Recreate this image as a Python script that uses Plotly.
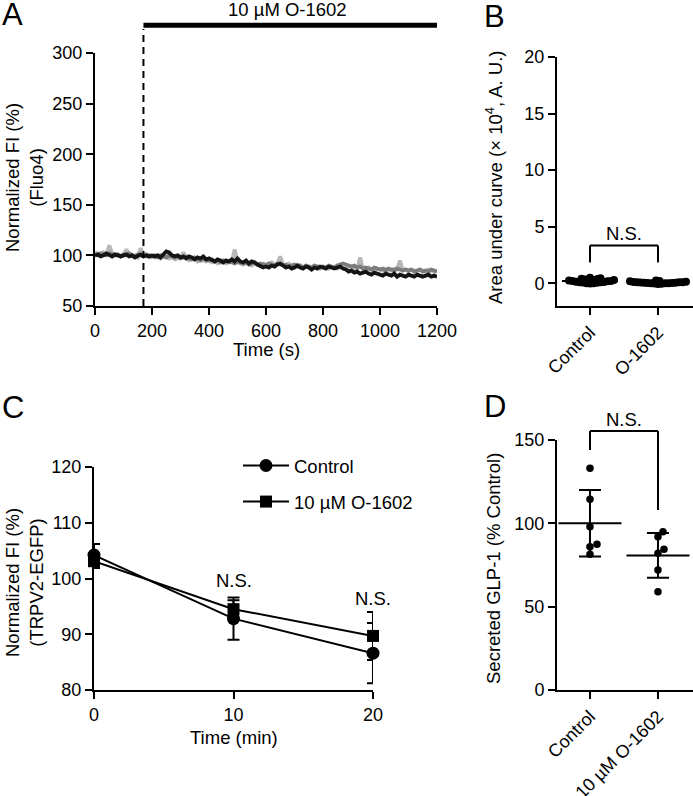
import numpy as np
import plotly.graph_objects as go

W, H = 693, 796
FONT = "Liberation Sans, Arial, sans-serif"
TICK = 18
TXT = 18.5

# ---------------- Panel A data ----------------
time_s = list(range(0, 1201, 10))
fluo_light = [103, 102, 101, 103, 100, 110, 102, 100, 101, 99,
              100, 106, 101, 99, 100, 98, 107, 100, 99, 98,
              99, 98, 100, 97, 99, 98, 97, 98, 96, 97,
              98, 103, 97, 95, 96, 97, 94, 96, 95, 94,
              95, 93, 94, 92, 94, 93, 92, 94, 93, 106,
              93, 92, 91, 93, 92, 90, 92, 91, 90, 92,
              91, 92, 93, 91, 92, 99, 91, 90, 92, 90,
              89, 91, 90, 88, 90, 89, 88, 90, 89, 87,
              89, 88, 87, 89, 88, 87, 89, 88, 87, 89,
              88, 87, 86, 98, 87, 86, 88, 86, 85, 87,
              86, 85, 87, 86, 85, 87, 86, 95, 85, 86,
              84, 86, 85, 84, 86, 85, 84, 86, 85, 84,
              85]
fluo_mid = [101, 100, 102, 101, 100, 102, 101, 100, 101, 99,
            101, 100, 102, 100, 99, 101, 100, 99, 101, 100,
            99, 100, 98, 100, 99, 98, 100, 99, 98, 99,
            97, 98, 99, 97, 96, 98, 97, 95, 97, 96,
            95, 96, 94, 95, 93, 95, 94, 93, 94, 92,
            94, 93, 92, 93, 91, 92, 93, 91, 92, 91,
            90, 92, 91, 90, 92, 91, 90, 91, 89, 90,
            91, 89, 90, 88, 90, 89, 88, 90, 89, 88,
            89, 88, 90, 89, 88, 90, 91, 92, 91, 90,
            89, 90, 88, 89, 87, 88, 87, 86, 88, 87,
            86, 87, 85, 87, 86, 85, 87, 86, 85, 86,
            85, 86, 84, 85, 86, 84, 85, 84, 86, 85,
            84]
fluo_black = [100, 101, 99, 100, 102, 100, 99, 101, 100, 99,
              100, 101, 99, 100, 98, 100, 101, 99, 100, 99,
              100, 99, 100, 98, 101, 104, 103, 100, 99, 100,
              98, 99, 97, 99, 98, 96, 98, 97, 99, 96,
              97, 95, 94, 96, 95, 93, 95, 94, 96, 94,
              97, 94, 93, 95, 92, 94, 93, 91, 89, 88,
              89, 88, 90, 89, 91, 92, 90, 88, 89, 87,
              88, 90, 88, 87, 89, 88, 86, 88, 87, 89,
              88, 87, 89, 88, 87, 88, 89, 87, 86, 84,
              85, 83, 84, 82, 83, 84, 82, 81, 83, 82,
              81, 80, 82, 81, 80, 82, 79, 81, 80, 79,
              81, 80, 79, 81, 80, 79, 80, 81, 79, 80,
              79]
drug_start_s = 170
drug_end_s = 1200
drug_label = "10 µM O-1602"
a_xticks = [0, 200, 400, 600, 800, 1000, 1200]
a_yticks = [50, 100, 150, 200, 250, 300]

# ---------------- Panel B data ----------------
auc_categories = ["Control", "O-1602"]
auc_control = [0.45, 0.40, 0.35, 0.30, 0.28, 0.25, 0.22, 0.20, 0.18, 0.15, 0.12, 0.10,
               0.08, 0.05, 0.02, 0.00, -0.02, 0.30, 0.38, 0.50, 0.20, 0.10]
auc_o1602 = [0.25, 0.20, 0.15, 0.10, 0.08, 0.05, 0.03, 0.00, -0.02, -0.05, 0.12, 0.18,
             0.02, -0.03, 0.06, 0.09, 0.00, 0.04, 0.10]
b_yticks = [0, 5, 10, 15, 20]

# ---------------- Panel C data ----------------
time_min = [0, 10, 20]
trpv2_control = [104.2, 92.8, 86.6]
trpv2_control_err = [2.0, 3.8, 5.4]
trpv2_o1602 = [103.1, 94.5, 89.7]
trpv2_o1602_err = [1.2, 1.6, 4.3]
c_series_names = ["Control", "10 µM O-1602"]
c_ns_times = [10, 20]
c_ns_levels = [99.6, 96.5]

# ---------------- Panel D data ----------------
glp_categories = ["Control", "10 µM O-1602"]
glp_control = [133, 114.5, 98, 87.5, 86, 81.5]
glp_o1602 = [95, 92, 84.5, 82, 72, 59]
d_yticks = [0, 50, 100, 150]

# ---------------- layout geometry ----------------
def px(v):
    return v / W

def py(v):
    return 1 - v / H

domA = dict(x=[px(95), px(437)], y=[py(306), py(53)])
domB = dict(x=[px(557), 1.0], y=[py(306), py(57)])
domC = dict(x=[px(94), px(373)], y=[py(690), py(467)])
domD = dict(x=[px(557), 1.0], y=[py(690), py(440)])

rangeA_y = [50, 300]
rangeB_y = [-2, 20]
rangeC_y = [80, 120]
rangeD_y = [0, 150]
cat_range = [-0.485, 1.515]


def swarm(values, y_px_per_unit, x_px_per_unit, dmin):
    vals = np.asarray(values, dtype=float)
    order = np.argsort(vals)
    placed = []
    offs = np.zeros(len(vals))
    cands = [0]
    for k in range(1, 200):
        cands += [k * 0.5, -k * 0.5]
    for i in order:
        yp = vals[i] * y_px_per_unit
        for c in cands:
            if all(np.hypot(c - qx, yp - qy) >= dmin for qx, qy in placed):
                placed.append((c, yp))
                offs[i] = c / x_px_per_unit
                break
    return offs


def ypp(dom, rng):
    return (dom["y"][1] - dom["y"][0]) * H / (rng[1] - rng[0])


def xpp(dom, rng):
    return (dom["x"][1] - dom["x"][0]) * W / (rng[1] - rng[0])


fig = go.Figure()

# ---- Panel A traces ----
for vals, col in [(fluo_light, "#b8b8b8"), (fluo_mid, "#7c7c7c"), (fluo_black, "#141414")]:
    fig.add_trace(go.Scatter(x=time_s, y=vals, mode="lines", line=dict(color=col, width=3.8),
                             xaxis="x", yaxis="y", showlegend=False))

# ---- Panel B ----
for i, vals in enumerate([auc_control, auc_o1602]):
    offs = swarm(vals, ypp(domB, rangeB_y), xpp(domB, cat_range), 3.1)
    fig.add_trace(go.Scatter(x=i + offs, y=vals, mode="markers",
                             marker=dict(color="black", size=8), xaxis="x2", yaxis="y2",
                             showlegend=False))
    fig.add_trace(go.Scatter(x=[i], y=[np.mean(vals)], mode="markers",
                             marker=dict(symbol="line-ew", size=40, color="black",
                                         line=dict(width=2, color="black")),
                             error_y=dict(type="data", array=[np.std(vals, ddof=1)],
                                          width=8, thickness=2, color="black"),
                             xaxis="x2", yaxis="y2", showlegend=False))

# ---- Panel C ----
fig.add_trace(go.Scatter(x=time_min, y=trpv2_o1602, mode="lines+markers", name=c_series_names[1],
                         marker=dict(symbol="square", size=12, color="black"),
                         line=dict(color="black", width=2),
                         error_y=dict(type="data", array=trpv2_o1602_err, width=6, thickness=2,
                                      color="black"),
                         cliponaxis=False, xaxis="x3", yaxis="y3", legendgroup="b", legendrank=2))
fig.add_trace(go.Scatter(x=time_min, y=trpv2_control, mode="lines+markers", name=c_series_names[0],
                         marker=dict(symbol="circle", size=13, color="black"),
                         line=dict(color="black", width=2),
                         error_y=dict(type="data", array=trpv2_control_err, width=6, thickness=2,
                                      color="black"),
                         cliponaxis=False, xaxis="x3", yaxis="y3", legendgroup="a", legendrank=1))

# ---- Panel D ----
for i, vals in enumerate([glp_control, glp_o1602]):
    offs = swarm(vals, ypp(domD, rangeD_y), xpp(domD, cat_range), 7)
    fig.add_trace(go.Scatter(x=i + offs, y=vals, mode="markers",
                             marker=dict(color="black", size=7.5), xaxis="x4", yaxis="y4",
                             showlegend=False))
    fig.add_trace(go.Scatter(x=[i], y=[np.mean(vals)], mode="markers",
                             marker=dict(symbol="line-ew", size=45, color="black",
                                         line=dict(width=2, color="black")),
                             error_y=dict(type="data", array=[np.std(vals, ddof=1)],
                                          width=11, thickness=2, color="black"),
                             xaxis="x4", yaxis="y4", showlegend=False))

axis_common = dict(showline=True, linewidth=2, linecolor="black", ticks="outside", ticklen=7,
                   tickwidth=2, tickcolor="black", showgrid=False, zeroline=False,
                   automargin=False,
                   tickfont=dict(size=TICK, color="black", family=FONT), fixedrange=True)

fig.update_layout(
    width=W, height=H, margin=dict(l=0, r=0, t=0, b=0, autoexpand=False),
    paper_bgcolor="white", plot_bgcolor="white",
    font=dict(family=FONT, size=TXT, color="black"),
    xaxis=dict(domain=domA["x"], anchor="y", range=[0, 1200], tickvals=a_xticks, **axis_common),
    yaxis=dict(domain=domA["y"], anchor="x", range=rangeA_y, tickvals=a_yticks, **axis_common),
    xaxis2=dict(domain=domB["x"], anchor="y2", range=cat_range, tickvals=[0, 1],
                ticktext=auc_categories, tickangle=-45, **axis_common),
    yaxis2=dict(domain=domB["y"], anchor="x2", range=rangeB_y, tickvals=b_yticks, **axis_common),
    xaxis3=dict(domain=domC["x"], anchor="y3", range=[0, 20], tickvals=time_min, **axis_common),
    yaxis3=dict(domain=domC["y"], anchor="x3", range=rangeC_y, tickvals=[80, 90, 100, 110, 120],
                **axis_common),
    xaxis4=dict(domain=domD["x"], anchor="y4", range=cat_range, tickvals=[0, 1],
                ticktext=glp_categories, tickangle=-45, **axis_common),
    yaxis4=dict(domain=domD["y"], anchor="x4", range=rangeD_y, tickvals=d_yticks, **axis_common),
    legend=dict(x=px(238), y=py(447), xanchor="left", yanchor="top", bgcolor="rgba(0,0,0,0)",
                font=dict(size=TXT, family=FONT), traceorder="grouped", tracegroupgap=9,
                itemwidth=46),
)


def dom_y(v, rng):
    return (v - rng[0]) / (rng[1] - rng[0])


shapes = []
# Panel A: drug bar and dashed start line
shapes.append(dict(type="line", xref="x", yref="y domain", x0=drug_start_s, x1=drug_end_s,
                   y0=1.11, y1=1.11, line=dict(color="black", width=5)))
shapes.append(dict(type="line", xref="x", yref="y domain", x0=drug_start_s, x1=drug_start_s,
                   y0=0, y1=1.095, line=dict(color="black", width=2, dash="7px,5px")))


def bracket(xr, yr, rng, x0, x1, ytop, yl0, yl1):
    out = []
    out.append(dict(type="line", xref=xr, yref=yr + " domain", x0=x0, x1=x1,
                    y0=dom_y(ytop, rng), y1=dom_y(ytop, rng), line=dict(color="black", width=2)))
    out.append(dict(type="line", xref=xr, yref=yr + " domain", x0=x0, x1=x0,
                    y0=dom_y(yl0, rng), y1=dom_y(ytop, rng), line=dict(color="black", width=2)))
    out.append(dict(type="line", xref=xr, yref=yr + " domain", x0=x1, x1=x1,
                    y0=dom_y(yl1, rng), y1=dom_y(ytop, rng), line=dict(color="black", width=2)))
    return out


shapes += bracket("x2", "y2", rangeB_y, 0, 1, 3.35, 1.85, 1.85)
shapes += bracket("x4", "y4", rangeD_y, 0, 1, 155.4, 144, 108)
fig.update_layout(shapes=shapes)

C = dict(showarrow=False, xanchor="center", yanchor="middle", font=dict(size=TXT))
ann = []
ann.append(dict(text=drug_label, xref="x", yref="y domain", x=(drug_start_s + drug_end_s) / 2 - 10,
                y=1.17, **C))
# panel letters
for lab, x, y in [("A", 12.5, 14), ("B", 494, 17), ("C", 13, 407), ("D", 495, 406)]:
    ann.append(dict(text=lab, xref="paper", yref="paper", x=px(x), y=py(y), showarrow=False,
                    font=dict(size=31), xanchor="center", yanchor="middle"))
# axis titles
ann.append(dict(text="Normalized FI (%)<br>(Fluo4)", xref="paper", yref="paper", x=px(24), y=py(178),
                textangle=-90, **C))
ann.append(dict(text="Time (s)", xref="paper", yref="paper", x=px(266), y=py(350), **C))
ann.append(dict(text="Area under curve (× 10<sup>4</sup>, A. U.)", xref="paper", yref="paper",
                x=px(494), y=py(178), textangle=-90, **C))
ann.append(dict(text="Normalized FI (%)<br>(TRPV2-EGFP)", xref="paper", yref="paper", x=px(24),
                y=py(583), textangle=-90, **C))
ann.append(dict(text="Time (min)", xref="paper", yref="paper", x=px(234), y=py(737), **C))
ann.append(dict(text="Secreted GLP-1 (% Control)", xref="paper", yref="paper", x=px(493),
                y=py(569), textangle=-90, **C))
# N.S. labels
ann.append(dict(text="N.S.", xref="x2", yref="y2", x=0.5, y=4.45, **C))
ann.append(dict(text="N.S.", xref="x4", yref="y4 domain", x=0.5, y=dom_y(162, rangeD_y), **C))
for t, lvl in zip(c_ns_times, c_ns_levels):
    ann.append(dict(text="N.S.", xref="x3", yref="y3", x=t, y=lvl, **C))
fig.update_layout(annotations=ann)

fig.write_html("out.html", config={"displayModeBar": False},
               post_script="document.body.style.margin='0px';")
